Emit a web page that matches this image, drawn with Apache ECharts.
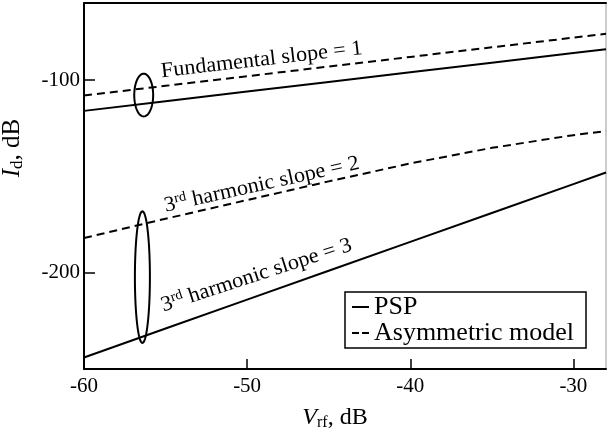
<!DOCTYPE html>
<html>
<head>
<meta charset="utf-8">
<script src="https://cdn.jsdelivr.net/npm/echarts@6/dist/echarts.min.js"></script>
<style>html,body{margin:0;padding:0;background:#fff}#c{width:607px;height:432px}</style>
</head>
<body>
<div id="c"></div>
<script>
// ---- data (dB) ----
var vrf        = [-60, -55, -50, -45, -40, -35, -30, -28];
var fundPSP    = [-116, -111, -106, -101, -96, -91, -86, -84];
var fundAsym   = [-108, -103, -98, -93, -88, -83, -78, -76];
var h3PSP      = [-244, -229, -214, -199, -184, -169, -154, -148];
var h3Asym     = [-182, -172, -162.3, -152.6, -143.3, -135.2, -128.6, -126.5];
var xTicks     = [-60, -50, -40, -30];
var yTicks     = [-200, -100];
var seriesNames = ['PSP', 'Asymmetric model'];
// annotation texts: [x, y, angle]
var noteText   = ['Fundamental slope = 1', '{n|3}{sup|rd}{n| harmonic slope = 2}', '{n|3}{sup|rd}{n| harmonic slope = 3}'];
var notePos    = [[-55.2, -101.3, 6.6], [-54.9, -171.6, 12.5], [-55.0, -223.3, 18]];
// ellipses: [cx, cy, rx, ry]
var ellipses   = [[-56.34, -107.8, 0.58, 11.1], [-56.42, -202.3, 0.46, 34.2]];

function pairs(xs, ys){ return xs.map(function(x,i){ return [x, ys[i]]; }); }

var FONT = 'Liberation Serif';
var chart = echarts.init(document.getElementById('c'));
var lineBase = { type:'line', symbol:'none', showSymbol:false, silent:true, smooth:false, z:3 };
function ln(name, ys, dashed){
  return Object.assign({}, lineBase, {
    name: name, data: pairs(vrf, ys),
    lineStyle: { color:'#000', width:2, type: dashed ? [8,5] : 'solid' },
    itemStyle: { color:'#000' }
  });
}

chart.setOption({
  animation:false,
  backgroundColor:'#fff',
  grid:{ left:84, top:3, right:1, bottom:63, containLabel:false, outerBoundsMode:'none',
         show:true, borderColor:'#999', borderWidth:1, backgroundColor:'transparent' },
  legend:{
    data: [
      { name: seriesNames[0], icon:'path://M0 0H17V2H0Z' },
      { name: seriesNames[1], icon:'path://M0 0H7V2H0Z M10 0H17V2H10Z' }
    ],
    orient:'vertical', left:345, top:292,
    padding:[2,12,2,7], itemGap:0, itemWidth:17, itemHeight:2, itemTextGap:8,
    borderColor:'#000', borderWidth:1.5, borderRadius:0, backgroundColor:'#fff',
    itemStyle:{ color:'#000', borderWidth:0 },
    textStyle:{ fontFamily:FONT, fontSize:26, color:'#000', lineHeight:26 }
  },
  xAxis:[{
    type:'value', min:-60, max:-28, position:'bottom',
    axisLine:{ show:true, onZero:false, lineStyle:{ color:'#000', width:2 } },
    axisTick:{ show:true, inside:true, length:10, customValues:xTicks, lineStyle:{ color:'#000', width:1.5 } },
    axisLabel:{ customValues:xTicks, fontFamily:FONT, fontSize:21, color:'#000', margin:7 },
    splitLine:{ show:false },
    name:'{v|V}{s|rf}{t|, dB}', nameLocation:'middle', nameGap:36,
    nameTextStyle:{ padding:[0,20,0,0], rich:{ v:{fontFamily:FONT, fontStyle:'italic', fontSize:24, color:'#000'},
                           s:{fontFamily:FONT, fontSize:16, color:'#000', padding:[10,0,0,0]},
                           t:{fontFamily:FONT, fontSize:24, color:'#000'} } }
  },{
    type:'value', min:-60, max:-28, position:'top',
    axisLine:{ show:true, onZero:false, lineStyle:{ color:'#000', width:2 } },
    axisTick:{show:false}, axisLabel:{show:false}, splitLine:{show:false}
  }],
  yAxis:{
    type:'value', min:-250, max:-60,
    axisLine:{ show:true, onZero:false, lineStyle:{ color:'#000', width:2 } },
    axisTick:{ show:true, inside:true, length:11, customValues:yTicks, lineStyle:{ color:'#000', width:1.5 } },
    axisLabel:{ customValues:yTicks, fontFamily:FONT, fontSize:21, color:'#000', margin:4 },
    splitLine:{ show:false },
    name:'{v|I}{s|d}{t|, dB}', nameLocation:'middle', nameGap:58,
    nameTextStyle:{ padding:[0,0,0,76], rich:{ v:{fontFamily:FONT, fontStyle:'italic', fontSize:25, color:'#000'},
                           s:{fontFamily:FONT, fontSize:17, color:'#000', padding:[10,0,0,0]},
                           t:{fontFamily:FONT, fontSize:25, color:'#000'} } }
  },
  series:[
    ln(seriesNames[0], fundPSP, false),
    ln(seriesNames[1], fundAsym, true),
    ln(seriesNames[1], h3Asym, true),
    ln(seriesNames[0], h3PSP, false),
    {
      type:'custom', silent:true, z:4,
      data: ellipses,
      renderItem:function(params, api){
        var cx=api.value(0), cy=api.value(1), rx=api.value(2), ry=api.value(3);
        var pts=[];
        for(var k=0;k<72;k++){
          var t=k/72*Math.PI*2;
          pts.push(api.coord([cx+rx*Math.cos(t), cy+ry*Math.sin(t)]));
        }
        return { type:'polygon', shape:{points:pts}, style:{ fill:null, stroke:'#000', lineWidth:2 } };
      }
    },
    {
      type:'custom', silent:true, z:5,
      data: notePos.map(function(p,i){ return [p[0], p[1], p[2], i]; }),
      renderItem:function(params, api){
        var p = api.coord([api.value(0), api.value(1)]);
        var idx = api.value(3);
        return {
          type:'text', x:p[0], y:p[1], rotation: api.value(2)*Math.PI/180, scaleX:1.03,
          style:{
            text: noteText[idx], x:0, y:0, align:'left', verticalAlign:'bottom',
            fill:'#000', fontFamily:FONT, fontSize:21.5,
            rich:{ n:{fontFamily:FONT, fontSize:21.5, fill:'#000'},
                   sup:{fontFamily:FONT, fontSize:14, fill:'#000', padding:[0,0,10,0]} }
          }
        };
      }
    }
  ]
});
</script>
</body>
</html>
